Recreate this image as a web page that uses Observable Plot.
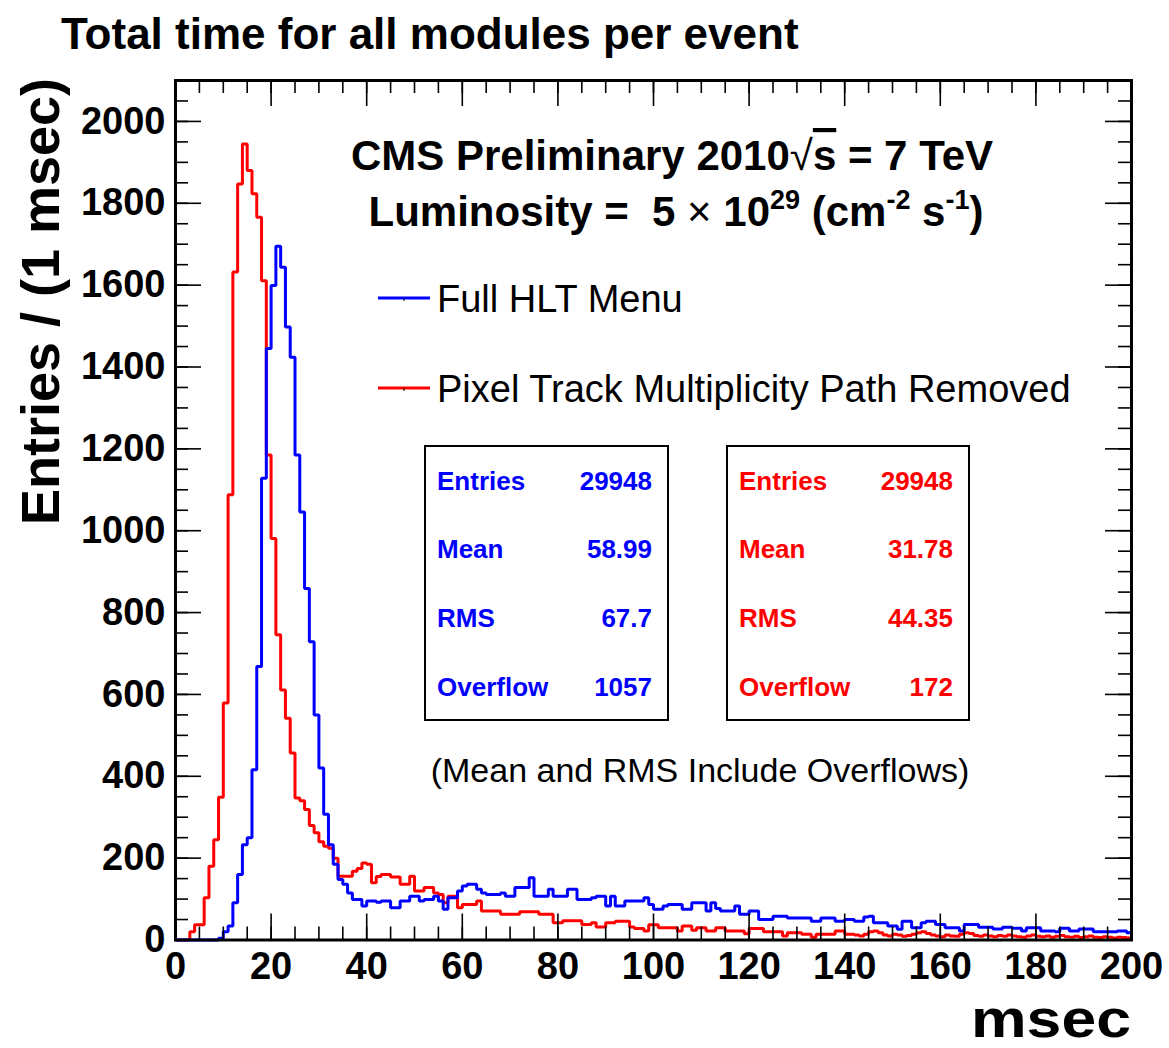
<!DOCTYPE html>
<html>
<head>
<meta charset="utf-8">
<script src="https://cdn.jsdelivr.net/npm/d3@7"></script>
<script src="https://cdn.jsdelivr.net/npm/@observablehq/plot@0.6"></script>
<style>
  html, body { margin: 0; padding: 0; background: #fff; }
  body { width: 1169px; height: 1048px; overflow: hidden; font-family: "Liberation Sans", Arial, Helvetica, sans-serif; }
  #title { position: relative; height: 44px; }
  #title span { position: absolute; left: 61px; top: 12px; font-size: 44px; line-height: 44px; font-weight: bold; color: #000; white-space: nowrap; }
  #chart svg { display: block; }
</style>
</head>
<body>
<div id="title"><span>Total time for all modules per event</span></div>
<div id="chart"></div>
<script>
// ---------------- data ----------------
// lower edge of each 1 msec bin, 0 ... 199
const msecBinEdges = d3.range(0, 200);

// Full HLT Menu (blue), entries per 1 msec bin
const fullHltCounts = [
  0, 0, 0, 0, 0, 0, 0, 0, 0, 4,
  20, 34, 91, 160, 233, 250, 416, 668, 1128, 1445,
  1599, 1695, 1644, 1498, 1424, 1185, 1046, 859, 729, 550,
  420, 307, 233, 185, 148, 136, 115, 99, 99, 83,
  95, 95, 92, 95, 95, 79, 79, 95, 95, 107,
  107, 95, 99, 99, 107, 95, 75, 103, 103, 120,
  132, 136, 136, 124, 115, 111, 111, 111, 115, 107,
  107, 128, 128, 128, 152, 107, 107, 107, 124, 107,
  107, 107, 124, 124, 99, 99, 99, 103, 107, 107,
  83, 107, 83, 83, 95, 95, 95, 95, 103, 87,
  75, 75, 83, 87, 87, 87, 75, 75, 91, 91,
  91, 71, 91, 77, 71, 71, 71, 83, 63, 63,
  71, 71, 50, 50, 50, 58, 58, 58, 54, 54,
  54, 54, 54, 46, 46, 54, 54, 54, 46, 46,
  50, 50, 46, 46, 56, 58, 42, 42, 42, 34,
  34, 26, 46, 46, 30, 30, 42, 46, 46, 38,
  38, 30, 30, 30, 22, 38, 38, 38, 31, 31,
  31, 27, 27, 31, 31, 29, 29, 22, 30, 30,
  30, 22, 22, 22, 20, 29, 29, 22, 22, 27,
  27, 27, 20, 20, 20, 20, 20, 22, 22, 18
];

// Pixel Track Multiplicity Path Removed (red), entries per 1 msec bin
const pixelRemovedCounts = [
  0, 0, 0, 20, 37, 37, 103, 180, 245, 349,
  579, 1088, 1632, 1847, 1945, 1880, 1823, 1766, 1611, 1185,
  981, 746, 611, 542, 457, 347, 340, 319, 280, 262,
  240, 229, 224, 200, 156, 156, 156, 168, 175, 188,
  185, 140, 155, 160, 160, 154, 154, 136, 136, 156,
  120, 120, 128, 128, 115, 111, 91, 107, 107, 79,
  87, 87, 87, 95, 71, 71, 71, 71, 63, 63,
  63, 63, 69, 69, 69, 69, 63, 63, 63, 42,
  42, 47, 47, 47, 47, 38, 38, 42, 32, 32,
  42, 42, 46, 46, 46, 32, 28, 28, 22, 37,
  37, 30, 30, 30, 30, 22, 34, 34, 24, 30,
  30, 22, 22, 30, 30, 22, 22, 22, 22, 15,
  28, 28, 28, 20, 20, 20, 20, 10, 18, 18,
  18, 14, 14, 7, 14, 14, 14, 14, 22, 22,
  14, 14, 12, 10, 14, 20, 22, 18, 12, 10,
  14, 12, 9, 11, 14, 18, 20, 16, 12, 10,
  8, 12, 10, 9, 14, 18, 16, 11, 9, 12,
  10, 8, 11, 9, 12, 10, 8, 7, 10, 12,
  9, 8, 10, 7, 9, 11, 8, 7, 9, 6,
  8, 10, 7, 6, 8, 7, 5, 7, 6, 5
];

const seriesNames = ["Full HLT Menu", "Pixel Track Multiplicity Path Removed"];
const seriesColors = ["#0000ff", "#ff0000"];

const xTickLabels = [0, 20, 40, 60, 80, 100, 120, 140, 160, 180, 200];
const yTickLabels = [0, 200, 400, 600, 800, 1000, 1200, 1400, 1600, 1800, 2000];
const xMinorTicks = d3.range(0, 201, 5);
const yMinorTicks = d3.range(0, 2101, 50);

const statsNames = ["Entries", "Mean", "RMS", "Overflow"];
const fullHltStats = ["29948", "58.99", "67.7", "1057"];
const pixelRemovedStats = ["29948", "31.78", "44.35", "172"];

// ---------------- layout ----------------
const FONT = '"Liberation Sans", Arial, Helvetica, sans-serif';
const SVG_TOP = 44;                 // page y where the svg starts (title div above)
const W = 1169, H = 1048 - SVG_TOP;
const mL = 175, mR = 38, mT = 80 - SVG_TOP, mB = 1048 - 939.5;
const fw = W - mL - mR, fh = H - mT - mB;
const P = y => y - SVG_TOP;         // page y -> svg y

function stepPoints(counts) {
  const pts = msecBinEdges.map((t, i) => ({t, n: counts[i]}));
  pts.push({t: msecBinEdges[msecBinEdges.length - 1] + 1, n: counts[counts.length - 1]});
  return pts;
}
const bluePts = stepPoints(fullHltCounts);
const redPts = stepPoints(pixelRemovedCounts);

const tickStyle = {stroke: "#000", strokeWidth: 1.6};

const plot = Plot.plot({
  width: W,
  height: H,
  marginLeft: mL,
  marginRight: mR,
  marginTop: mT,
  marginBottom: mB,
  style: {fontFamily: FONT, fontSize: "38px", fontWeight: "bold", color: "#000", background: "#fff", overflow: "visible"},
  x: {domain: [0, 200]},
  y: {domain: [0, 2100]},
  marks: [
    Plot.line(redPts, {x: "t", y: "n", curve: "step-after", stroke: seriesColors[1], strokeWidth: 3, strokeLinejoin: "miter", strokeLinecap: "butt"}),
    Plot.line(bluePts, {x: "t", y: "n", curve: "step-after", stroke: seriesColors[0], strokeWidth: 3, strokeLinejoin: "miter", strokeLinecap: "butt"}),
    // inward ticks on all four sides
    Plot.tickX(xMinorTicks, {x: d => d, insetTop: fh - 13, ...tickStyle}),
    Plot.tickX(xTickLabels, {x: d => d, insetTop: fh - 26, ...tickStyle}),
    Plot.tickX(xMinorTicks, {x: d => d, insetBottom: fh - 13, ...tickStyle}),
    Plot.tickX(xTickLabels, {x: d => d, insetBottom: fh - 26, ...tickStyle}),
    Plot.tickY(yMinorTicks, {y: d => d, insetRight: fw - 13, ...tickStyle}),
    Plot.tickY(yTickLabels, {y: d => d, insetRight: fw - 26, ...tickStyle}),
    Plot.tickY(yMinorTicks, {y: d => d, insetLeft: fw - 13, ...tickStyle}),
    Plot.tickY(yTickLabels, {y: d => d, insetLeft: fw - 26, ...tickStyle}),
    Plot.frame({stroke: "#000", strokeWidth: 3}),
    Plot.axisX({anchor: "bottom", ticks: xTickLabels, tickSize: 0, tickPadding: 12, label: null, tickFormat: d3.format("d"), fontSize: 38, fontWeight: "bold"}),
    Plot.axisY({anchor: "left", ticks: yTickLabels, tickSize: 0, tickPadding: 10, label: null, tickFormat: d3.format("d"), fontSize: 38, fontWeight: "bold"})
  ]
});
document.getElementById("chart").appendChild(plot);

// ---------------- annotations ----------------
const svg = d3.select(plot);
const ann = svg.append("g").attr("font-family", FONT).attr("fill", "#000").attr("text-anchor", "start");

// axis titles
ann.append("text")
  .attr("transform", `translate(59,${P(78)}) rotate(-90)`)
  .attr("text-anchor", "end")
  .attr("font-size", 53).attr("font-weight", "bold")
  .attr("textLength", 447).attr("lengthAdjust", "spacingAndGlyphs")
  .text("Entries / (1 msec)");
ann.append("text")
  .attr("x", 1131).attr("y", P(1036.5))
  .attr("text-anchor", "end")
  .attr("font-size", 54).attr("font-weight", "bold")
  .attr("textLength", 160).attr("lengthAdjust", "spacingAndGlyphs")
  .text("msec");

// CMS header
const cms = ann.append("text").attr("x", 672).attr("y", P(170)).attr("text-anchor", "middle")
  .attr("font-size", 42).attr("font-weight", "bold");
cms.append("tspan").text("CMS Preliminary 2010");
cms.append("tspan").attr("font-weight", "normal").text("\u221A");
cms.append("tspan").attr("text-decoration", "overline").text("s");
cms.append("tspan").text(" = 7 TeV");

const lum = ann.append("text").attr("x", 676).attr("y", P(226)).attr("text-anchor", "middle")
  .attr("font-size", 42).attr("font-weight", "bold").attr("xml:space", "preserve");
lum.append("tspan").text("Luminosity =  5 ");
lum.append("tspan").attr("font-weight", "normal").text("\u00D7");
lum.append("tspan").text(" 10");
lum.append("tspan").attr("font-size", 27).attr("dy", -17).text("29");
lum.append("tspan").attr("dy", 17).text(" (cm");
lum.append("tspan").attr("font-size", 27).attr("dy", -17).text("-2");
lum.append("tspan").attr("dy", 17).text(" s");
lum.append("tspan").attr("font-size", 27).attr("dy", -17).text("-1");
lum.append("tspan").attr("dy", 17).text(")");

// legend
const legendY = [298, 388];
seriesNames.forEach((name, i) => {
  const y = P(legendY[i]);
  ann.append("line").attr("x1", 378).attr("x2", 430).attr("y1", y).attr("y2", y)
    .attr("stroke", seriesColors[i]).attr("stroke-width", 3);
  ann.append("line").attr("x1", 404).attr("x2", 404).attr("y1", y).attr("y2", y + 3)
    .attr("stroke", "#000").attr("stroke-width", 1);
  ann.append("text").attr("x", 437).attr("y", y + 14).attr("text-anchor", "start")
    .attr("font-size", 38).attr("font-weight", "normal").text(name);
});

// stats boxes
const boxes = [
  {x0: 425, x1: 668, values: fullHltStats, color: seriesColors[0]},
  {x0: 727, x1: 969, values: pixelRemovedStats, color: seriesColors[1]}
];
const rowY = [490, 558, 627, 696];
boxes.forEach(b => {
  ann.append("rect").attr("x", b.x0).attr("y", P(446)).attr("width", b.x1 - b.x0).attr("height", 274)
    .attr("fill", "#fff").attr("stroke", "#000").attr("stroke-width", 2);
  statsNames.forEach((s, j) => {
    ann.append("text").attr("x", b.x0 + 12).attr("y", P(rowY[j])).attr("fill", b.color)
      .attr("text-anchor", "start").attr("font-size", 26).attr("font-weight", "bold").text(s);
    ann.append("text").attr("x", b.x1 - 16).attr("y", P(rowY[j])).attr("fill", b.color)
      .attr("text-anchor", "end").attr("font-size", 26).attr("font-weight", "bold").text(b.values[j]);
  });
});

ann.append("text").attr("x", 700).attr("y", P(782)).attr("text-anchor", "middle")
  .attr("font-size", 34).attr("font-weight", "normal").text("(Mean and RMS Include Overflows)");
</script>
</body>
</html>
